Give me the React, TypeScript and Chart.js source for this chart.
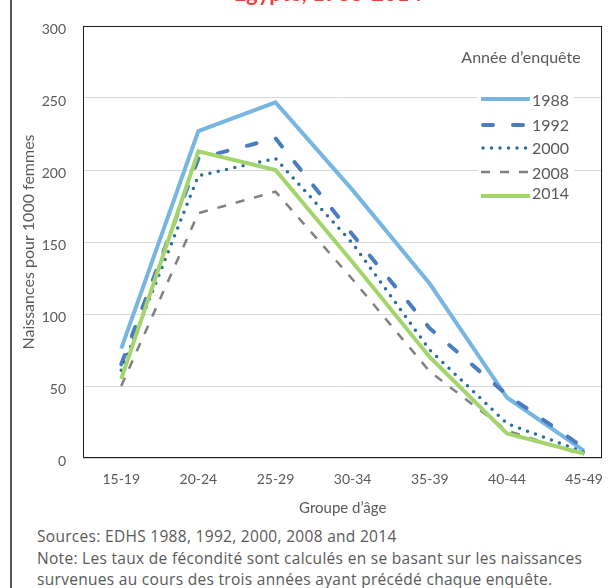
import React, { useEffect, useRef } from "react";
import { Chart, registerables } from "chart.js";

Chart.register(...registerables);

// ---- data ----
const ageGroups = ["15-19", "20-24", "25-29", "30-34", "35-39", "40-44", "45-49"];
const surveyYears = ["1988", "1992", "2000", "2008", "2014"];
const rate1988 = [76, 227, 247, 186, 121, 42, 5];
const rate1992 = [65, 208, 222, 155, 90, 44, 7];
const rate2000 = [61, 196, 208, 149, 75, 24, 4];
const rate2008 = [50, 170, 185, 124, 60, 19, 2];
const rate2014 = [55, 213, 200, 136, 70, 17, 3];
const yTickValues = [0, 50, 100, 150, 200, 250, 300];

const titleText = "Égypte, 1988-2014";
const yAxisTitle = "Naissances pour 1000 femmes";
const xAxisTitle = "Groupe d’âge";
const legendTitle = "Année d’enquête";
const footerLines = [
  "Sources: EDHS 1988, 1992, 2000, 2008 and 2014",
  "Note: Les taux de fécondité sont calculés en se basant sur les naissances",
  "survenues au cours des trois années ayant précédé chaque enquête.",
];

// ---- styles ----
const seriesStyles = [
  { color: "#78b6e2", width: 4, dash: [] as number[], cap: "butt" as CanvasLineCap },
  { color: "#4a7dbe", width: 4, dash: [10, 20], cap: "round" as CanvasLineCap },
  { color: "#2b6e9d", width: 3.5, dash: [0, 8.5], cap: "round" as CanvasLineCap },
  { color: "#808080", width: 2.5, dash: [9, 10], cap: "butt" as CanvasLineCap },
  { color: "#a4d46c", width: 4, dash: [] as number[], cap: "butt" as CanvasLineCap },
];
const textColor = "#595959";
const FONT = "Lato, 'Open Sans', sans-serif";

export default function App() {
  const ref = useRef<HTMLCanvasElement>(null);

  useEffect(() => {
    const canvas = ref.current;
    if (!canvas) return;
    const allSeries = [rate1988, rate1992, rate2000, rate2008, rate2014];

    const framePlugin = {
      id: "frame",
      beforeDatasetsDraw(chart: any) {
        const { ctx, chartArea } = chart;
        ctx.save();
        ctx.strokeStyle = "#1a1a1a";
        ctx.lineWidth = 1;
        ctx.strokeRect(
          Math.round(chartArea.left) + 0.5,
          Math.round(chartArea.top) + 0.5,
          Math.round(chartArea.right - chartArea.left) - 1,
          Math.round(chartArea.bottom - chartArea.top) - 1
        );
        ctx.restore();
      },
    };

    const legendPlugin = {
      id: "customLegend",
      afterDraw(chart: any) {
        const ctx = chart.ctx as CanvasRenderingContext2D;
        const lineY = [99, 125, 148, 172, 196];
        const textY = [101, 126, 149, 174, 194];
        ctx.save();
        ctx.fillStyle = "#ffffff";
        ctx.fillRect(478, 84, 96, 122);
        ctx.fillStyle = textColor;
        ctx.font = `16px ${FONT}`;
        ctx.textAlign = "center";
        ctx.textBaseline = "middle";
        ctx.fillText(legendTitle, 521, 58);
        ctx.textAlign = "left";
        ctx.font = `16px ${FONT}`;
        surveyYears.forEach((yr, k) => {
          const st = seriesStyles[k];
          ctx.beginPath();
          ctx.strokeStyle = st.color;
          ctx.lineWidth = st.width;
          ctx.lineCap = st.cap;
          ctx.setLineDash(st.dash);
          const x0 = st.cap === "round" ? 483 : 481;
          const x1 = st.cap === "round" ? 528 : 530;
          ctx.moveTo(x0, lineY[k]);
          ctx.lineTo(x1, lineY[k]);
          ctx.stroke();
          ctx.setLineDash([]);
          ctx.fillStyle = textColor;
          ctx.fillText(yr, 532, textY[k]);
        });
        ctx.restore();
      },
    };

    const chart = new Chart(canvas, {
      type: "line",
      data: {
        datasets: surveyYears.map((yr, k) => ({
          label: yr,
          data: allSeries[k].map((v, i) => ({ x: i, y: v })),
          borderColor: seriesStyles[k].color,
          backgroundColor: seriesStyles[k].color,
          borderWidth: seriesStyles[k].width,
          borderDash: seriesStyles[k].dash,
          borderCapStyle: seriesStyles[k].cap,
          borderJoinStyle: "miter" as CanvasLineJoin,
          pointRadius: 0,
          pointHoverRadius: 0,
          tension: 0,
          fill: false,
          order: surveyYears.length - k,
        })),
      },
      options: {
        animation: false,
        responsive: false,
        maintainAspectRatio: false,
        layout: { padding: { top: 26, right: 3, left: 0, bottom: 0 } },
        plugins: {
          legend: { display: false },
          tooltip: { enabled: false },
        },
        scales: {
          x: {
            type: "linear",
            min: -0.4956,
            max: 6.239,
            afterBuildTicks: (axis: any) => {
              axis.ticks = ageGroups.map((_, i) => ({ value: i }));
            },
            afterFit: (s: any) => {
              s.height = 67;
            },
            grid: { display: false, drawTicks: false },
            border: { display: false },
            ticks: {
              callback: (v: any) => ageGroups[Number(v)] ?? "",
              color: textColor,
              font: { family: FONT, size: 14 },
              padding: 13,
              maxRotation: 0,
              autoSkip: false,
            },
            title: {
              display: true,
              text: xAxisTitle,
              color: textColor,
              font: { family: FONT, size: 15 },
              padding: { top: 0, bottom: 8 },
            },
          },
          y: {
            min: 0,
            max: 300,
            afterBuildTicks: (axis: any) => {
              axis.ticks = yTickValues.map((v) => ({ value: v }));
            },
            afterFit: (s: any) => {
              s.width = 83;
            },
            grid: { color: "#d9d9d9", lineWidth: 1, drawTicks: false },
            border: { display: false },
            ticks: {
              color: textColor,
              font: { family: FONT, size: 14 },
              padding: 17,
              labelOffset: 3,
            },
            title: {
              display: true,
              text: yAxisTitle,
              color: textColor,
              font: { family: FONT, size: 16 },
              padding: { top: 19, bottom: 0 },
            },
          },
        },
      },
      plugins: [framePlugin, legendPlugin],
    });
    return () => chart.destroy();
  }, []);

  return (
    <div
      style={{
        position: "fixed",
        left: 0,
        top: 0,
        width: 616,
        height: 588,
        background: "#fff",
        overflow: "hidden",
      }}
    >
      <div
        style={{
          position: "absolute",
          left: 10,
          top: 0,
          width: 2,
          height: 588,
          background: "#555",
        }}
      />
      <canvas
        ref={ref}
        width={616}
        height={525}
        style={{ position: "absolute", left: 0, top: 0, width: 616, height: 525 }}
      />
      <div
        style={{
          position: "absolute",
          left: 0,
          width: 616,
          top: -18,
          textAlign: "center",
          paddingLeft: 40,
          boxSizing: "border-box",
          color: "#f03e3a",
          fontFamily: FONT,
          fontWeight: 700,
          fontSize: 22,
          lineHeight: "22px",
        }}
      >
        {titleText}
      </div>
      <div
        style={{
          position: "absolute",
          left: 37,
          top: 526,
          color: textColor,
          fontFamily: "'Open Sans', sans-serif",
          fontSize: 15.5,
          letterSpacing: "0.3px",
          lineHeight: "21.5px",
          whiteSpace: "nowrap",
        }}
      >
        {footerLines.map((t, i) => (
          <div key={i} style={{ height: 21.5 }}>
            {t}
          </div>
        ))}
      </div>
    </div>
  );
}
